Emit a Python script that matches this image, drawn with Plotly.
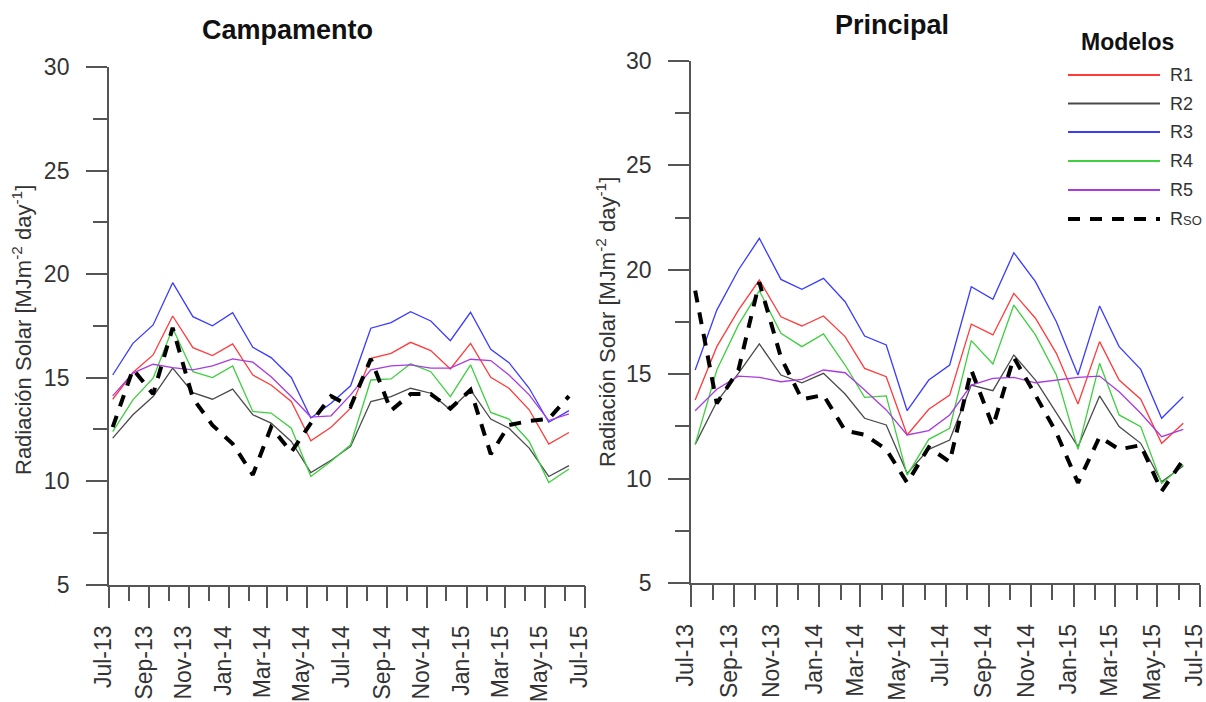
import plotly.graph_objects as go
import pandas as pd

# Monthly observations, Jul-2013 .. Jun-2015
months = ["2013-07", "2013-08", "2013-09", "2013-10", "2013-11", "2013-12",
          "2014-01", "2014-02", "2014-03", "2014-04", "2014-05", "2014-06",
          "2014-07", "2014-08", "2014-09", "2014-10", "2014-11", "2014-12",
          "2015-01", "2015-02", "2015-03", "2015-04", "2015-05", "2015-06"]

# Station "Campamento" (MJ m-2 day-1)
camp_r1 = [13.95, 15.24, 16.09, 17.97, 16.44, 16.06, 16.62, 15.12, 14.64, 13.84, 11.94, 12.60,
           13.52, 15.93, 16.17, 16.70, 16.30, 15.41, 16.65, 15.01, 14.48, 13.44, 11.78, 12.34]
camp_r2 = [12.07, 13.20, 14.08, 15.45, 14.27, 13.95, 14.44, 13.20, 12.80, 11.91, 10.41, 11.00,
           11.67, 13.84, 14.08, 14.48, 14.24, 13.44, 14.40, 12.99, 12.55, 11.59, 10.22, 10.74]
camp_r3 = [15.12, 16.65, 17.54, 19.58, 17.94, 17.50, 18.13, 16.46, 15.96, 15.00, 13.04, 13.76,
           14.60, 17.38, 17.65, 18.18, 17.73, 16.78, 18.15, 16.36, 15.72, 14.48, 12.84, 13.40]
camp_r4 = [12.39, 13.92, 14.97, 17.38, 15.28, 15.00, 15.56, 13.36, 13.28, 12.55, 10.22, 10.95,
           11.75, 14.88, 14.93, 15.66, 15.28, 14.08, 15.61, 13.31, 12.99, 11.91, 9.93, 10.58]
camp_r5 = [14.11, 15.21, 15.64, 15.48, 15.37, 15.56, 15.90, 15.74, 15.04, 14.08, 13.09, 13.15,
           14.16, 15.37, 15.56, 15.61, 15.45, 15.45, 15.88, 15.82, 15.12, 14.16, 12.92, 13.24]
camp_rso = [12.6, 15.4, 14.2, 17.4, 14.0, 12.7, 11.8, 10.3, 12.6, 11.4, 12.8, 14.1,
            13.6, 15.9, 13.4, 14.2, 14.2, 13.5, 14.4, 11.3, 12.7, 12.9, 13.0, 14.1]

# Station "Principal" (MJ m-2 day-1)
prin_r1 = [13.76, 16.32, 18.07, 19.51, 17.75, 17.31, 17.79, 16.80, 15.28, 14.88, 12.09, 13.32,
           14.00, 17.40, 16.88, 18.87, 17.68, 16.00, 13.57, 16.56, 14.72, 13.80, 11.69, 12.65]
prin_r2 = [11.64, 13.68, 15.04, 16.45, 14.96, 14.59, 15.04, 14.05, 12.89, 12.57, 10.25, 11.40,
           11.85, 14.48, 14.21, 15.92, 14.72, 13.13, 11.53, 13.96, 12.49, 11.69, 9.85, 10.60]
prin_r3 = [15.20, 18.07, 19.99, 21.51, 19.54, 19.07, 19.59, 18.47, 16.83, 16.40, 13.25, 14.72,
           15.44, 19.19, 18.59, 20.82, 19.43, 17.51, 14.96, 18.27, 16.32, 15.23, 12.89, 13.92]
prin_r4 = [11.64, 15.20, 17.36, 19.00, 16.96, 16.32, 16.93, 15.44, 13.89, 13.96, 10.17, 11.88,
           12.41, 16.61, 15.49, 18.31, 16.88, 14.96, 11.40, 15.52, 13.05, 12.49, 9.77, 10.65]
prin_r5 = [13.25, 14.28, 14.91, 14.85, 14.64, 14.75, 15.20, 15.07, 14.24, 13.29, 12.09, 12.30,
           13.05, 14.48, 14.80, 14.85, 14.59, 14.72, 14.85, 14.91, 14.16, 13.13, 12.01, 12.36]
prin_rso = [19.0, 13.6, 15.2, 19.4, 15.8, 13.8, 14.0, 12.3, 12.1, 11.4, 9.8, 11.5,
            10.8, 15.2, 12.5, 15.8, 14.0, 12.2, 9.8, 12.0, 11.4, 11.6, 9.4, 10.9]

series_names = ["R1", "R2", "R3", "R4", "R5", "Rso"]
series_labels = ["R1", "R2", "R3", "R4", "R5",
                 "R<span style='font-size:13px'>SO</span>"]
y_ticks = [5, 10, 15, 20, 25, 30]

# Line styles per model
styles = {
    "R1": dict(color="#ff3b3b", width=1.3),
    "R2": dict(color="#4a4a4a", width=1.3),
    "R3": dict(color="#3b3bff", width=1.3),
    "R4": dict(color="#3fcf3f", width=1.3),
    "R5": dict(color="#a83be0", width=1.3),
    "Rso": dict(color="#000000", width=4, dash="12px,10px"),
}

W, H = 1206, 702
FONT = "Liberation Sans, Arial, sans-serif"
AXC = "#555555"
TXT = "#333333"

dates = pd.to_datetime(months) + pd.Timedelta(days=6)

fig = go.Figure()

panels = [
    ("x", "y", [camp_r1, camp_r2, camp_r3, camp_r4, camp_r5, camp_rso]),
    ("x2", "y2", [prin_r1, prin_r2, prin_r3, prin_r4, prin_r5, prin_rso]),
]
for xa, ya, data in panels:
    for name, vals in zip(series_names, data):
        fig.add_trace(go.Scatter(x=dates, y=vals, mode="lines", name=name,
                                 line=styles[name], xaxis=xa, yaxis=ya,
                                 showlegend=False))


def px_x(p):
    return p / W


def px_y(p):
    return 1 - p / H


xaxis_common = dict(
    type="date", range=["2013-07-01", "2015-07-01"],
    tick0="2013-07-01", dtick="M2", tickformat="%b-%y", tickangle=-90,
    showline=True, linecolor=AXC, linewidth=1.5,
    ticks="outside", ticklen=22, tickwidth=1.5, tickcolor=AXC,
    ticklabelstandoff=8, ticklabelshift=-5,
    automargin=False, ticklabeloverflow="allow",
    minor=dict(dtick="M1", tick0="2013-07-01", ticks="outside", ticklen=15,
               tickwidth=1.5, tickcolor=AXC, showgrid=False),
    showgrid=False, zeroline=False,
    tickfont=dict(family=FONT, size=23, color=TXT),
)
yaxis_common = dict(
    range=[5, 30], tickvals=y_ticks,
    showline=True, linecolor=AXC, linewidth=1.5,
    ticks="outside", ticklen=21, tickwidth=1.5, tickcolor=AXC,
    ticklabelstandoff=12, automargin=False, ticklabeloverflow="allow",
    minor=dict(dtick=2.5, tick0=5, ticks="outside", ticklen=14,
               tickwidth=1.5, tickcolor=AXC, showgrid=False),
    showgrid=False, zeroline=False,
    tickfont=dict(family=FONT, size=23, color=TXT),
)

fig.update_layout(
    width=W, height=H,
    margin=dict(l=0, r=0, t=0, b=0, pad=0, autoexpand=False),
    paper_bgcolor="white", plot_bgcolor="white",
    showlegend=False,
    xaxis=dict(xaxis_common, domain=[px_x(108.8), px_x(584.6)], anchor="y"),
    yaxis=dict(yaxis_common, domain=[px_y(584.5), px_y(67)], anchor="x"),
    xaxis2=dict(xaxis_common, domain=[px_x(691), px_x(1200)], anchor="y2"),
    yaxis2=dict(yaxis_common, domain=[px_y(583), px_y(61)], anchor="x2"),
)

annotations = []
# Panel titles
annotations.append(dict(text="<b>Campamento</b>", x=px_x(287), y=px_y(30),
                        xref="paper", yref="paper", showarrow=False,
                        xanchor="center", yanchor="middle",
                        font=dict(family=FONT, size=27, color="#111111")))
annotations.append(dict(text="<b>Principal</b>", x=px_x(892), y=px_y(25),
                        xref="paper", yref="paper", showarrow=False,
                        xanchor="center", yanchor="middle",
                        font=dict(family=FONT, size=27, color="#111111")))
# Y axis titles
ytitle = "Radiación Solar [MJm<sup>-2</sup> day<sup>-1</sup>]"
for xc, yc in [(22, 330), (606, 322)]:
    annotations.append(dict(text=ytitle, x=px_x(xc), y=px_y(yc),
                            xref="paper", yref="paper", showarrow=False,
                            textangle=-90, xanchor="center", yanchor="middle",
                            font=dict(family=FONT, size=22, color=TXT)))

# Legend block
annotations.append(dict(text="<b>Modelos</b>", x=px_x(1127), y=px_y(42),
                        xref="paper", yref="paper", showarrow=False,
                        xanchor="center", yanchor="middle",
                        font=dict(family=FONT, size=23, color="#111111")))
shapes = []
legend_rows = [75, 103.5, 132, 161, 190, 219]
for name, label, yr in zip(series_names, series_labels, legend_rows):
    st = styles[name]
    shapes.append(dict(type="line", xref="paper", yref="paper",
                       x0=px_x(1068), x1=px_x(1160), y0=px_y(yr), y1=px_y(yr),
                       line=dict(color=st["color"], width=st["width"] if name == "Rso" else 1.8,
                                 dash=st.get("dash", "solid"))))
    annotations.append(dict(text=label, x=px_x(1168), y=px_y(yr),
                            xref="paper", yref="paper", showarrow=False,
                            xanchor="left", yanchor="middle",
                            font=dict(family=FONT, size=18, color=TXT)))

fig.update_layout(annotations=annotations, shapes=shapes)

fig.write_html("out.html")
